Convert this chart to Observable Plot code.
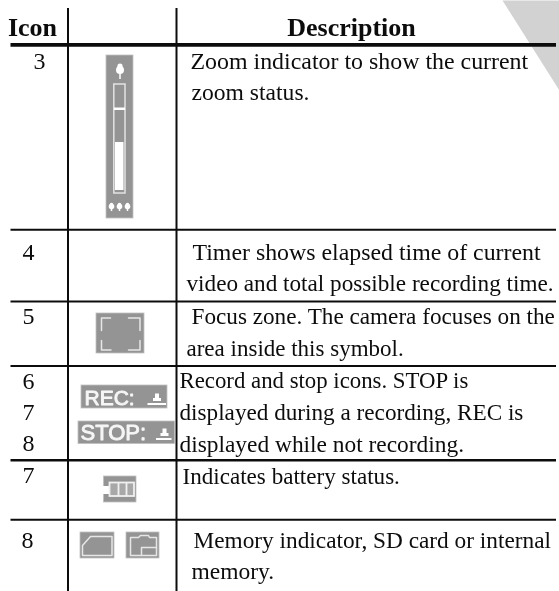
<!DOCTYPE html>
<html><head><meta charset="utf-8">
<script src="https://cdn.jsdelivr.net/npm/d3@7"></script>
<script src="https://cdn.jsdelivr.net/npm/@observablehq/plot@0.6"></script>
<style>html,body{margin:0;padding:0;background:#fff}svg{display:block;filter:blur(.35px)}</style>
</head><body><div id="c"></div>
<script>
// table content
const headerTexts = ["Icon","Description"];
const iconNumberTexts = ["3","4","5","6","7","8","7","8"];
const descriptionTexts = [
 "Zoom indicator to show the current","zoom status.",
 "Timer shows elapsed time of current","video and total possible recording time.",
 "Focus zone. The camera focuses on the","area inside this symbol.",
 "Record and stop icons. STOP is","displayed during a recording, REC is","displayed while not recording.",
 "Indicates battery status.",
 "Memory indicator, SD card or internal","memory."
];
const iconLabelTexts = ["REC:","STOP:"];

// reference grid
const columnEdges = [67.5,176];
const rowEdges = [44.3,229.3,301,365.5,459.7,519.3];
const rowEdgeWeights = [3.8,2,2.2,2,2.6,2];
const headerAt = [[32,35],[351,35]];
const iconNumberAt = [[39,68],[28,259],[28,323],[28,388],[28,419],[28,450],[28,482],[27,547]];
const descriptionAt = [[190,68],[191,99],[192,259],[186,290],[191,323],[186,355],[179,387],[179,419],[179,451],[182,483],[193,547],[191,578]];
const descriptionSizes = [23.9,23.6,23.85,23.2,23.2,23,22.8,23.2,23.4,23.1,23.3,23.5];
const cornerPoints = [[502,0],[559,0],[559,90],[502,0]];

const serif = "'Liberation Serif','Times New Roman',serif";
const sans = "'Liberation Sans',Arial,sans-serif";
const GREY = "#949494", INK = "#0c0c0c";

const zipText = (texts,at,sizes)=>texts.map((t,i)=>({t,x:at[i][0],y:at[i][1],s:sizes?sizes[i]:null}));
const box = ([x1,x2,y1,y2])=>({x1,x2,y1,y2});
const path = (pts,id)=>pts.map(([x,y])=>({x,y,id}));

// icon parts
const plates = [[106,133,55,218],[96,144,313,353],[81,167,385,408],[78,174.5,421,443.5],[103.5,136,476,502],[80,114,532,558],[126,159,532,558]].map(box);
const zoomBar = [[113.8,125,84,193]].map(box);
const zoomWhite = [[115,123.5,142,190],[114,125,107.5,110]].map(box);
const iconLines = [
 [[101,330],[101,317.5],[110,317.5]],[[128,317.5],[139.5,317.5],[139.5,330]],
 [[101,340],[101,349.5],[110.5,349.5]],[[128,349.5],[139.5,349.5],[139.5,340]],
 [[82,555],[82,545],[90,536],[111.5,536],[111.5,555],[82,555]],
 [[130,555],[130,537],[138,537],[140,535],[148,535],[149,537],[156,537],[156,555],[130,555]],
 [[141,555],[141,547],[156,547]]
];
const batteryNotch = [[103,109,486,494]].map(box);
const batteryCells = [[109.5,134,482.5,496]].map(box);
const batteryBars = [118,126];
const treeTops = [{x:119.5,y:65.5,r:2.6},{x:119.5,y:69.5,r:4},{x:111,y:204,r:1.8},{x:119,y:204,r:1.8},{x:127,y:204,r:1.8},{x:111,y:206,r:2.8},{x:119,y:206,r:2.8},{x:127,y:206,r:2.8}];
const treeStems = [[119.5,70,79],[111,206,211],[119,206,211],[127,206,211]].map(([x,y1,y2])=>({x,y1,y2}));
const labels = zipText(iconLabelTexts,[[84,404.3],[80,439.5]],[21,22]);
const stampParts = [[147.5,166,403,405],[153,161,398,401],[155,159,393.5,398.5],[156,171.5,438,440],[160.5,168.5,433,436],[162.5,166.5,428.5,433.5]].map(box);

const chart = Plot.plot({
  width:559,height:591,margin:0,
  x:{domain:[0,559],range:[0,559],axis:null},
  y:{domain:[0,591],range:[0,591],axis:null},
  r:{type:"identity"},
  marks:[
    Plot.line(path(cornerPoints,"corner"),{x:"x",y:"y",fill:"#d2d2d2",stroke:"none"}),
    Plot.rect(plates,{x1:"x1",x2:"x2",y1:"y1",y2:"y2",fill:GREY,stroke:"#c0c0c0",strokeWidth:.8}),
    Plot.rect(zoomBar,{x1:"x1",x2:"x2",y1:"y1",y2:"y2",fill:"none",stroke:"#e2e2e2",strokeWidth:1.5}),
    Plot.rect(zoomWhite,{x1:"x1",x2:"x2",y1:"y1",y2:"y2",fill:"#fff"}),
    ...iconLines.map((p,i)=>Plot.line(path(p,i),{x:"x",y:"y",stroke:"#e6e6e6",strokeWidth:1.5})),
    Plot.rect(batteryNotch,{x1:"x1",x2:"x2",y1:"y1",y2:"y2",fill:"#fff"}),
    Plot.rect(batteryCells,{x1:"x1",x2:"x2",y1:"y1",y2:"y2",fill:"#a8a8a8",stroke:"#f0f0f0",strokeWidth:1.8}),
    Plot.ruleX(batteryBars,{y1:482.5,y2:496,stroke:"#f0f0f0",strokeWidth:1.8}),
    Plot.dot(treeTops,{x:"x",y:"y",r:"r",fill:"#fff",stroke:null}),
    Plot.ruleX(treeStems,{x:"x",y1:"y1",y2:"y2",stroke:"#fff",strokeWidth:1.5}),
    Plot.text(labels,{x:"x",y:"y",text:"t",fontSize:"s",textAnchor:"start",lineAnchor:"bottom",fontFamily:sans,fill:"#f6f6f6",stroke:"#f6f6f6",strokeWidth:.9}),
    Plot.rect(stampParts,{x1:"x1",x2:"x2",y1:"y1",y2:"y2",fill:"#fff"}),
    Plot.ruleX(columnEdges,{y1:8,y2:591,stroke:INK,strokeWidth:2}),
    Plot.ruleY(rowEdges.map((y,i)=>({y,w:rowEdgeWeights[i]})),{y:"y",x1:10.5,x2:556,stroke:INK,strokeWidth:"w"}),
    Plot.text(zipText(headerTexts,headerAt),{x:"x",y:"y",text:"t",lineAnchor:"bottom",fontFamily:serif,fontWeight:700,fontSize:26,fill:INK}),
    Plot.text(zipText(iconNumberTexts,iconNumberAt),{x:"x",y:"y",text:"t",lineAnchor:"bottom",fontFamily:serif,fontSize:24,fill:INK}),
    Plot.text(zipText(descriptionTexts,descriptionAt,descriptionSizes),{x:"x",y:"y",text:"t",fontSize:"s",textAnchor:"start",lineAnchor:"bottom",fontFamily:serif,fill:INK})
  ]
});
document.getElementById("c").append(chart);
</script></body></html>
